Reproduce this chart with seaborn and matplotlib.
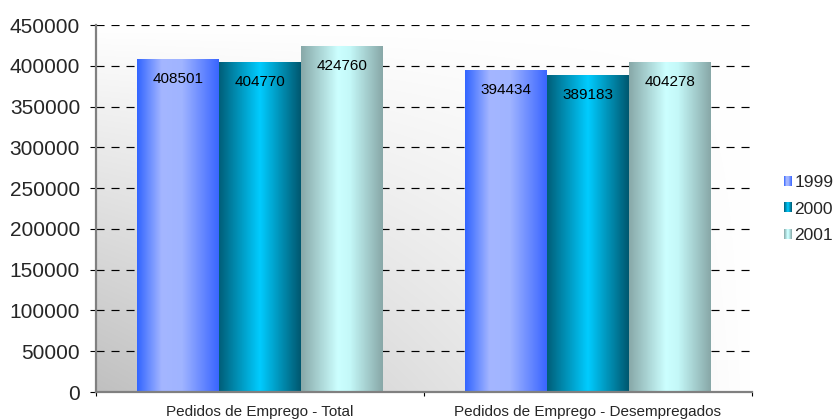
import numpy as np
import pandas as pd
import seaborn as sb
import matplotlib.pyplot as plt
from matplotlib.colors import LinearSegmentedColormap
from matplotlib.patches import Patch, Rectangle
from matplotlib.legend_handler import HandlerBase

# data
categorias = ["Pedidos de Emprego - Total", "Pedidos de Emprego - Desempregados"]
anos = ["1999", "2000", "2001"]
v1999 = [408501, 394434]
v2000 = [404770, 389183]
v2001 = [424760, 404278]
yticks = list(range(0, 450001, 50000))

# horizontal shading of each series (edge -> highlight -> edge)
grad_stops = {
    "1999": [(0.0, "#3366ff"), (0.3, "#a4b6ff"), (0.55, "#a0b4ff"), (1.0, "#3a66ff")],
    "2000": [(0.0, "#005f7a"), (0.5, "#00ccff"), (1.0, "#005870")],
    "2001": [(0.0, "#88a9a9"), (0.45, "#ccffff"), (0.6, "#c4f8f8"), (1.0, "#88a8a8")],
}
cmaps = {a: LinearSegmentedColormap.from_list("g" + a, grad_stops[a]) for a in anos}

df = pd.DataFrame({
    "categoria": categorias * 3,
    "valor": v1999 + v2000 + v2001,
    "ano": [a for a in anos for _ in categorias],
})

sb.set_style("white")
plt.rcParams["font.family"] = ["Liberation Sans", "DejaVu Sans"]
plt.rcParams["lines.scale_dashes"] = False

fig = plt.figure(figsize=(8.35, 4.19), dpi=100)
ax = fig.add_axes([96 / 835, 1 - 392 / 419, 656 / 835, 367 / 419])

sb.barplot(data=df, x="categoria", y="valor", hue="ano", width=0.75,
           saturation=1, legend=False, ax=ax, zorder=2)

# background: grey in the bottom-left corner fading to white
nx, ny = 200, 100
gx = np.linspace(0, 1, nx)[None, :]
gy = np.linspace(1, 0, ny)[:, None]
shade = 1 - 0.247 * (1 - gx) * (1 - gy)
bg = np.dstack([shade, shade, shade])
ax.imshow(bg, extent=(-0.5, 1.5, 0, 450000), aspect="auto", zorder=0,
          interpolation="bilinear")

# gradient fill of every bar, clipped to the bar rectangle
xs = np.linspace(0, 1, 120)
for ano, cont in zip(anos, ax.containers):
    row = cmaps[ano](xs)[None, :, :3]
    for bar, val in zip(cont.patches, cont.datavalues):
        bar.set_facecolor("none")
        bar.set_edgecolor("none")
        x0 = bar.get_x()
        x1 = x0 + bar.get_width()
        im = ax.imshow(row, extent=(x0, x1, 0, bar.get_height()), aspect="auto",
                       zorder=2, interpolation="bilinear")
        im.set_clip_path(bar)
        ax.annotate(str(int(val)), (x0 + bar.get_width() / 2, bar.get_height()),
                    xytext=(0, -20), textcoords="offset pixels", ha="center",
                    va="center", fontsize=11, color="black", zorder=4)

ax.set_xlim(-0.5, 1.5)
ax.set_ylim(0, 450000)
ax.set_yticks(yticks)
ax.set_yticklabels([str(t) for t in yticks])
ax.set_xticks([0, 1])
ax.set_xticks([-0.5, 0.5, 1.5], minor=True)
ax.set_xlabel("")
ax.set_ylabel("")

ax.set_axisbelow(True)
ax.yaxis.grid(True, color="black", linewidth=0.85, linestyle=(0, (5.8, 5)), zorder=1)
ax.xaxis.grid(False)

for s in ["top", "right"]:
    ax.spines[s].set_visible(False)
for s in ["left", "bottom"]:
    ax.spines[s].set_color("#808080")
    ax.spines[s].set_linewidth(1.6)
    ax.spines[s].set_zorder(3)

ax.tick_params(axis="y", which="major", left=True, length=4.5, width=0.8,
               color="black", labelsize=15, pad=7)
ax.tick_params(axis="x", which="major", bottom=False, length=0, labelsize=11, pad=9)
ax.tick_params(axis="x", which="minor", bottom=True, length=3, width=0.8, color="black")


class GradHandler(HandlerBase):
    def __init__(self, cmap):
        super().__init__()
        self.cmap = cmap

    def create_artists(self, legend, orig_handle, xdescent, ydescent,
                       width, height, fontsize, trans):
        n = 8
        arts = []
        for i in range(n):
            r = Rectangle((-xdescent + i * width / n, -ydescent), width / n, height,
                          facecolor=self.cmap((i + 0.5) / n), edgecolor="none",
                          transform=trans)
            arts.append(r)
        return arts


handles = [Patch(label=a) for a in anos]
hmap = {h: GradHandler(cmaps[a]) for h, a in zip(handles, anos)}
fig.legend(handles=handles, handler_map=hmap, loc="center left",
           bbox_to_anchor=(784 / 835, 1 - 209 / 419), frameon=False,
           fontsize=12.5, handlelength=0.45, handleheight=0.5,
           handletextpad=0.15, labelspacing=0.65, borderpad=0, borderaxespad=0)

plt.savefig("out.png", dpi=100)
